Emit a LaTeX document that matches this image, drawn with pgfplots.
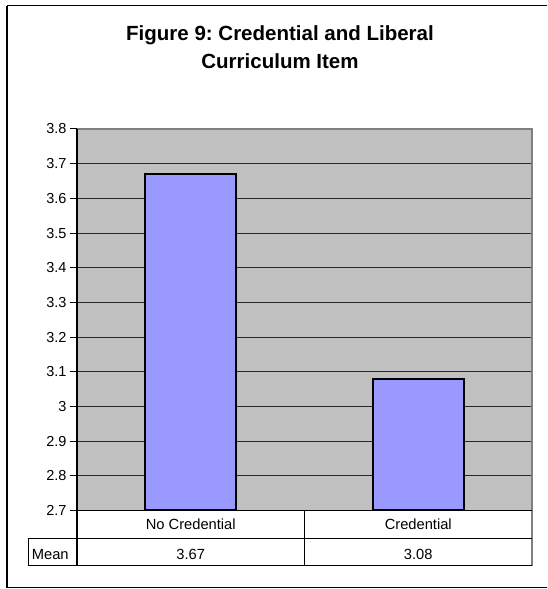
\documentclass[border=0pt]{standalone}
\usepackage{fontspec}
\setmainfont{Liberation Sans}
\usepackage{pgfplots}
\pgfplotsset{compat=1.18}
\frenchspacing

\definecolor{plotgray}{RGB}{192,192,192}
\definecolor{barblue}{RGB}{153,153,255}
\definecolor{bordergray}{RGB}{128,128,128}

% Mean score for each group
\def\meanNoCred{3.67}
\def\meanCred{3.08}

\newcommand{\tablefont}{\fontsize{14.7}{17}\selectfont}

\begin{document}
\begin{tikzpicture}[x=1pt,y=1pt]
\useasboundingbox (0,0) rectangle (547,589);
\clip (0,0) rectangle (547,589);

% chart frame (its right side runs past the page edge)
\draw[line width=1.3pt, black] (7,583.3) -- (7,1.2) -- (570,1.2);
\draw[line width=1.3pt, black] (7,583.3) -- (570,583.3);

% title
\node[anchor=base, font=\fontsize{20.5}{28}\selectfont\bfseries] at (280,548) {Figure 9: Credential and Liberal};
\node[anchor=base, font=\fontsize{20.5}{28}\selectfont\bfseries] at (280,520) {Curriculum Item};

\begin{axis}[
  at={(77pt,78.5pt)}, anchor=south west,
  scale only axis, width=455pt, height=381.5pt,
  xmin=-0.5, xmax=1.5, ymin=2.7, ymax=3.8,
  xtick=\empty,
  ytick={2.7,2.8,2.9,3,3.1,3.2,3.3,3.4,3.5,3.6,3.7,3.8},
  /pgf/number format/assume math mode=true,
  yticklabel style={font=\fontsize{14.5}{17}\selectfont},
  axis background/.style={fill=plotgray},
  ymajorgrids, grid style={black!85, line width=0.8pt},
  axis line style={draw=none},
  ytick pos=left, tick align=outside, major tick length=7pt,
  tick style={black, line width=1pt},
  ybar, bar width=91pt, bar shift=0pt,
  clip mode=individual,
]
\addplot[fill=barblue, draw=black, line width=2.4pt] coordinates {(0,\meanNoCred) (1,\meanCred)};

% data table text below the plot
\node[anchor=base, font=\tablefont] at ([yshift=-19.3pt]axis cs:0,2.7) {No Credential};
\node[anchor=base, font=\tablefont] at ([yshift=-19.3pt]axis cs:1,2.7) {Credential};
\node[anchor=base, font=\tablefont] at ([yshift=-49.3pt]axis cs:0,2.7) {\meanNoCred};
\node[anchor=base, font=\tablefont] at ([yshift=-49.3pt]axis cs:1,2.7) {\meanCred};
\end{axis}

% plot area border (top and right)
\draw[line width=2pt, bordergray] (77,460) -- (532,460) -- (532,23);
% value axis line
\draw[line width=1.5pt, black] (77,460) -- (77,23);
% data table grid
\draw[line width=1.2pt, black] (77,78.5) -- (532,78.5);
\draw[line width=1pt, black] (28.3,50.7) -- (532,50.7);
\draw[line width=1pt, black] (28.3,23) -- (532,23);
\draw[line width=1pt, black] (28.3,23) -- (28.3,50.7);
\draw[line width=1pt, black] (304.5,23) -- (304.5,78.5);
\node[anchor=base west, font=\tablefont, inner sep=0pt] at (31.7,29.7) {Mean};
\end{tikzpicture}
\end{document}
